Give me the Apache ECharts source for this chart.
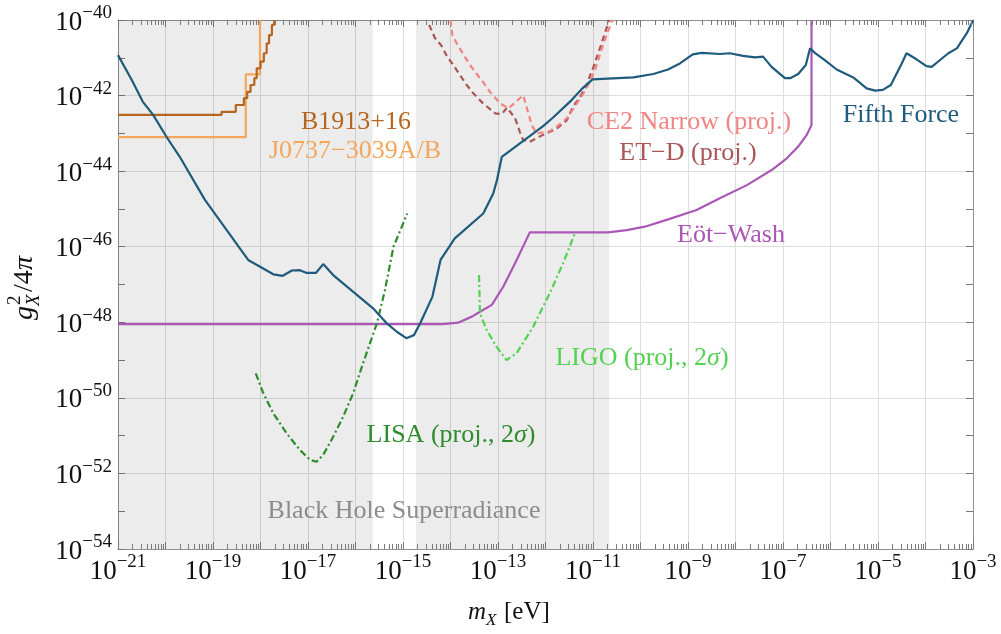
<!DOCTYPE html>
<html><head><meta charset="utf-8">
<script src="https://cdn.jsdelivr.net/npm/echarts@6/dist/echarts.min.js"></script>
<style>html,body{margin:0;padding:0;background:#fff}#c{width:1001px;height:634px}</style>
</head><body><div id="c"></div>
<script>
// ---- data (log10 of m_X [eV] and log10 of g_X^2/4pi) ----
const xLabelExps = [-21, -19, -17, -15, -13, -11, -9, -7, -5, -3];
const yLabelExps = [-40, -42, -44, -46, -48, -50, -52, -54];
const superradianceRanges = [[-21, -15.64], [-14.73, -10.66]];

const fifthForceLogM = [-21, -20.71, -20.48, -20.26, -19.98, -19.70, -19.17, -18.26, -17.73, -17.53, -17.34, -17.17, -17.04, -16.83, -16.68, -16.47, -15.63, -15.34, -15.13, -14.93, -14.77, -14.64, -14.38, -14.21, -13.91, -13.31, -13.10, -13.02, -12.92, -12.05, -11.84, -11.45, -11.24, -11.01, -10.15, -9.73, -9.42, -9.17, -8.90, -8.71, -8.33, -8.12, -7.84, -7.59, -7.42, -7.24, -6.96, -6.85, -6.68, -6.52, -6.43, -6.33, -6.12, -5.87, -5.52, -5.24, -5.06, -4.90, -4.73, -4.50, -4.40, -4.19, -3.98, -3.87, -3.52, -3.34, -3.13, -3.00];
const fifthForceLogG = [-40.93, -41.59, -42.16, -42.51, -43.09, -43.62, -44.76, -46.35, -46.73, -46.77, -46.63, -46.62, -46.69, -46.69, -46.46, -46.75, -47.63, -48.03, -48.25, -48.42, -48.34, -48.03, -47.32, -46.35, -45.78, -45.12, -44.59, -44.23, -43.62, -42.81, -42.58, -42.12, -41.83, -41.57, -41.52, -41.43, -41.31, -41.15, -40.91, -40.87, -40.90, -40.88, -40.95, -40.99, -40.97, -41.24, -41.54, -41.54, -41.43, -41.19, -40.75, -40.87, -41.06, -41.31, -41.52, -41.81, -41.87, -41.85, -41.72, -41.15, -40.88, -41.04, -41.22, -41.24, -40.88, -40.75, -40.35, -40.01];

const eotWashLogM = [-21, -14.16, -13.84, -13.55, -13.38, -13.13, -12.89, -12.64, -12.33, -10.68, -10.29, -9.91, -9.45, -8.82, -8.33, -7.76, -7.24, -6.92, -6.68, -6.50, -6.40, -6.40];
const eotWashLogG = [-48.05, -48.05, -48.01, -47.85, -47.72, -47.54, -47.06, -46.44, -45.62, -45.62, -45.56, -45.47, -45.29, -45.03, -44.72, -44.37, -43.97, -43.66, -43.35, -43.04, -42.78, -40.0];

const b1913LogM = [-21, -18.82, -18.52, -18.35, -18.28, -18.21, -18.13, -18.08, -18.00, -17.93, -17.87, -17.82, -17.76, -17.71];
const b1913LogG = [-42.51, -42.43, -42.25, -42.07, -41.90, -41.72, -41.54, -41.28, -41.10, -40.88, -40.62, -40.40, -40.13, -40.0];

const j0737LogM = [-21, -18.31, -18.01];
const j0737LogG = [-43.10, -41.44, -40.0];

const ce2LogM = [-14.00, -13.96, -13.86, -13.73, -13.60, -13.46, -13.32, -13.17, -12.96, -12.78, -12.47, -12.29, -12.19, -11.94, -11.76, -11.55, -11.38, -11.20, -11.06, -10.96, -10.89, -10.77, -10.59];
const ce2LogG = [-40.0, -40.40, -40.64, -40.91, -41.17, -41.41, -41.63, -41.90, -42.20, -42.34, -41.99, -42.78, -43.00, -42.96, -42.82, -42.60, -42.29, -41.94, -41.63, -41.32, -41.06, -40.58, -40.0];

const etdLogM = [-14.45, -14.33, -14.19, -14.07, -13.94, -13.80, -13.66, -13.52, -13.32, -13.06, -12.92, -12.81, -12.64, -12.54, -12.47, -12.33, -12.05, -11.76, -11.55, -11.42, -11.27, -11.13, -11.06, -10.99, -10.83, -10.66];
const etdLogG = [-40.13, -40.47, -40.68, -40.97, -41.19, -41.46, -41.72, -41.94, -42.20, -42.47, -42.49, -42.32, -42.60, -42.96, -43.18, -43.22, -43.04, -42.87, -42.65, -42.29, -42.03, -41.72, -41.46, -41.24, -40.66, -40.0];

const lisaLogM = [-18.10, -17.94, -17.73, -17.45, -17.17, -16.96, -16.82, -16.68, -16.47, -16.26, -16.05, -15.84, -15.55, -15.38, -15.20, -14.91];
const lisaLogG = [-49.35, -49.88, -50.41, -50.94, -51.38, -51.64, -51.69, -51.51, -51.03, -50.50, -49.88, -49.08, -48.03, -47.15, -46.00, -45.12];

const ligoLogM = [-13.40, -13.38, -13.24, -13.03, -12.82, -12.61, -12.26, -11.91, -11.63, -11.38];
const ligoLogG = [-46.75, -47.76, -48.20, -48.65, -49.00, -48.82, -48.12, -47.23, -46.44, -45.64];

// ---- chart ----
const SERIF = '"Liberation Serif", "DejaVu Serif", serif';
const C = {
  fifth: '#1f5b7c', eot: '#aa57b6', b1913: '#b5651d', j0737: '#f4a75c',
  ce2: '#f28484', etd: '#aa5656', lisa: '#2e8b2e', ligo: '#52d152', bh: '#8c8c8c'
};
const zip = (xs, ys) => xs.map((x, i) => [x, ys[i]]);
const X0 = -21, X1 = -3, Y0 = -54, Y1 = -40;

const tickRich = {
  b: { fontFamily: SERIF, fontSize: 27, color: '#111', lineHeight: 32, verticalAlign: 'bottom' },
  s: { fontFamily: SERIF, fontSize: 19, color: '#111', lineHeight: 16, verticalAlign: 'top' }
};
const supLabel = v => '{b|10}{s|\u2212' + Math.abs(v) + '}';

function lineSeries(name, xs, ys, color, extra) {
  return Object.assign({
    name, type: 'line', data: zip(xs, ys), showSymbol: false, symbol: 'none',
    smooth: false, clip: true, silent: true, z: 3,
    lineStyle: { color, width: 2.2 }
  }, extra || {});
}

const TICK_COLOR = '#7a7a7a';
const frameLine = { show: true, onZero: false, lineStyle: { color: '#8f8f8f', width: 1 } };
const tickStyle = { show: true, inside: true, length: 7, lineStyle: { color: TICK_COLOR, width: 1 } };

const textGraphics = [
  { type: 'text', z: 10, silent: true, style: { text: 'B1913+16', x: 356, y: 122, font: '26px ' + SERIF, fill: C.b1913, align: 'center', verticalAlign: 'middle' } },
  { type: 'text', z: 10, silent: true, style: { text: 'J0737\u22123039A/B', x: 355, y: 151, font: '26px ' + SERIF, fill: C.j0737, align: 'center', verticalAlign: 'middle' } },
  { type: 'text', z: 10, silent: true, style: { text: 'CE2 Narrow (proj.)', x: 689, y: 122, font: '26px ' + SERIF, fill: C.ce2, align: 'center', verticalAlign: 'middle' } },
  { type: 'text', z: 10, silent: true, style: { text: 'ET\u2212D (proj.)', x: 688, y: 153, font: '26px ' + SERIF, fill: C.etd, align: 'center', verticalAlign: 'middle' } },
  { type: 'text', z: 10, silent: true, style: { text: 'Fifth Force', x: 901, y: 115, font: '26px ' + SERIF, fill: C.fifth, align: 'center', verticalAlign: 'middle' } },
  { type: 'text', z: 10, silent: true, style: { text: 'Eöt\u2212Wash', x: 677, y: 235, font: '26px ' + SERIF, fill: C.eot, align: 'left', verticalAlign: 'middle' } },
  { type: 'text', z: 10, silent: true, style: { text: '{n|LIGO (proj., 2}{i|σ}{n|)}', x: 642, y: 358, fill: C.ligo, align: 'center', verticalAlign: 'middle',
      rich: { n: { fontFamily: SERIF, fontSize: 26, fill: C.ligo }, i: { fontFamily: SERIF, fontStyle: 'italic', fontSize: 26, fill: C.ligo } } } },
  { type: 'text', z: 10, silent: true, style: { text: '{n|LISA (proj., 2}{i|σ}{n|)}', x: 451, y: 435, fill: C.lisa, align: 'center', verticalAlign: 'middle',
      rich: { n: { fontFamily: SERIF, fontSize: 26, fill: C.lisa }, i: { fontFamily: SERIF, fontStyle: 'italic', fontSize: 26, fill: C.lisa } } } },
  { type: 'text', z: 10, silent: true, style: { text: 'Black Hole Superradiance', x: 404, y: 511, font: '26px ' + SERIF, fill: C.bh, align: 'center', verticalAlign: 'middle' } },
  // x-axis title: m_X [eV]
  { type: 'group', x: 468, y: 600, silent: true, children: [
    { type: 'text', style: { text: 'm', x: 0, y: 0, font: 'italic 25px ' + SERIF, fill: '#111', verticalAlign: 'top' } },
    { type: 'text', style: { text: 'X', x: 18, y: 12, font: 'italic 17px ' + SERIF, fill: '#111', verticalAlign: 'top' } },
    { type: 'text', style: { text: '[eV]', x: 36, y: 0, font: '25px ' + SERIF, fill: '#111', verticalAlign: 'top' } }
  ] },
  // y-axis title: g_X^2 / 4π (rotated)
  { type: 'group', x: 25, y: 320, rotation: Math.PI / 2, silent: true, children: [
    { type: 'text', style: { text: 'g', x: 0, y: 0, font: 'italic 28px ' + SERIF, fill: '#111', verticalAlign: 'middle' } },
    { type: 'text', style: { text: '2', x: 15, y: -10, font: '19px ' + SERIF, fill: '#111', verticalAlign: 'middle' } },
    { type: 'text', style: { text: 'X', x: 14, y: 9, font: 'italic 19px ' + SERIF, fill: '#111', verticalAlign: 'middle' } },
    { type: 'text', style: { text: '/4', x: 28, y: 0, font: '28px ' + SERIF, fill: '#111', verticalAlign: 'middle' } },
    { type: 'text', style: { text: 'π', x: 50, y: 0, font: 'italic 28px ' + SERIF, fill: '#111', verticalAlign: 'middle' } }
  ] }
];

const option = {
  animation: false,
  backgroundColor: '#fff',
  grid: { left: 118, right: 28, top: 20, bottom: 85, containLabel: false },
  xAxis: [
    { type: 'value', min: X0, max: X1, interval: 1, position: 'bottom',
      axisLine: frameLine, axisTick: tickStyle,
      splitLine: { show: true, lineStyle: { color: '#dedede', width: 1 } },
      axisLabel: { margin: 4, formatter: v => xLabelExps.includes(v) ? supLabel(v) : '', rich: tickRich } },
    { type: 'value', min: X0, max: X1, interval: 1, position: 'top',
      axisLine: frameLine, axisTick: tickStyle, splitLine: { show: false }, axisLabel: { show: false } }
  ],
  yAxis: [
    { type: 'value', min: Y0, max: Y1, interval: 1, position: 'left',
      axisLine: frameLine, axisTick: tickStyle,
      splitLine: { show: true, lineStyle: { color: ['#dedede', 'rgba(0,0,0,0)'], width: 1 } },
      axisLabel: { margin: 6, formatter: v => yLabelExps.includes(v) ? supLabel(v) : '', rich: tickRich } },
    { type: 'value', min: Y0, max: Y1, interval: 1, position: 'right',
      axisLine: frameLine, axisTick: tickStyle, splitLine: { show: false }, axisLabel: { show: false } }
  ],
  series: [
    lineSeries('Eöt-Wash', eotWashLogM, eotWashLogG, C.eot, {
      markArea: { silent: true, label: { show: false },
        itemStyle: { color: 'rgba(0,0,0,0.075)' },
        data: superradianceRanges.map(r => [{ coord: [r[0], Y0] }, { coord: [r[1], Y1] }]) }
    }),
    lineSeries('J0737-3039A/B', j0737LogM, j0737LogG, C.j0737, { step: 'end' }),
    lineSeries('B1913+16', b1913LogM, b1913LogG, C.b1913, { step: 'end' }),
    lineSeries('LISA', lisaLogM, lisaLogG, C.lisa, { lineStyle: { color: C.lisa, width: 2.2, type: [7, 3, 2, 3] } }),
    lineSeries('LIGO', ligoLogM, ligoLogG, C.ligo, { lineStyle: { color: C.ligo, width: 2.2, type: [7, 3, 2, 3] } }),
    lineSeries('ET-D', etdLogM, etdLogG, C.etd, { lineStyle: { color: C.etd, width: 2.2, type: [6, 4] } }),
    lineSeries('CE2 Narrow', ce2LogM, ce2LogG, C.ce2, { lineStyle: { color: C.ce2, width: 2.2, type: [6, 4] } }),
    lineSeries('Fifth Force', fifthForceLogM, fifthForceLogG, C.fifth, { z: 4 })
  ],
  graphic: textGraphics
};

const chart = echarts.init(document.getElementById('c'), null, { renderer: 'canvas' });
chart.setOption(option);

// log-spaced minor ticks (2..9 within each decade) on top and bottom frame,
// positioned through the chart's own x scale
const minorTickGraphics = [];
const yBottom = chart.convertToPixel({ yAxisIndex: 0 }, Y0);
const yTop = chart.convertToPixel({ yAxisIndex: 0 }, Y1);
for (let n = X0; n < X1; n++) {
  for (let k = 2; k <= 9; k++) {
    const px = Math.round(chart.convertToPixel({ xAxisIndex: 0 }, n + Math.log10(k))) + 0.5;
    minorTickGraphics.push({ type: 'line', silent: true, z: 8,
      shape: { x1: px, y1: yBottom, x2: px, y2: yBottom - 5 }, style: { stroke: TICK_COLOR, lineWidth: 1 } });
    minorTickGraphics.push({ type: 'line', silent: true, z: 8,
      shape: { x1: px, y1: yTop, x2: px, y2: yTop + 5 }, style: { stroke: TICK_COLOR, lineWidth: 1 } });
  }
}
chart.setOption({ graphic: textGraphics.concat(minorTickGraphics) });
</script>
</body></html>
